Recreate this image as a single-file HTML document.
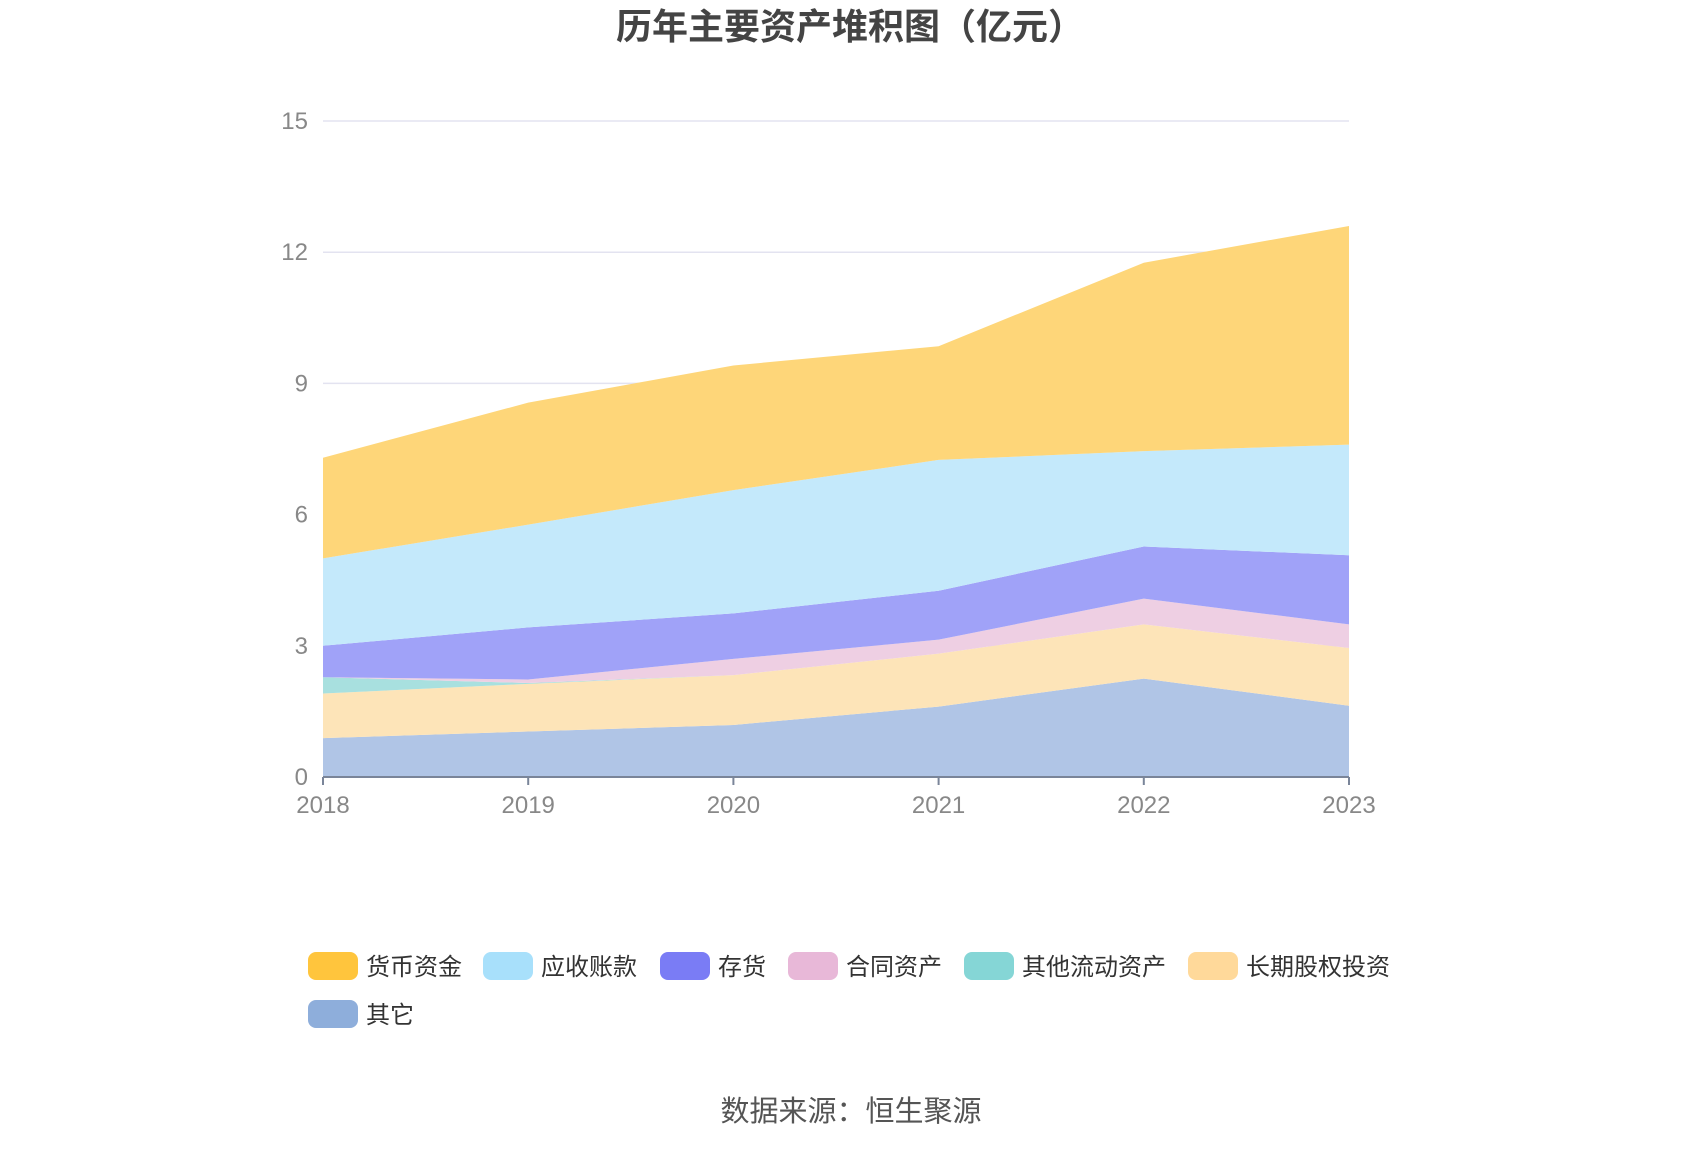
<!DOCTYPE html>
<html><head><meta charset="utf-8"><style>
html,body{margin:0;padding:0;background:#fff;}
body{width:1700px;height:1150px;overflow:hidden;font-family:"Liberation Sans","Noto Sans CJK SC",sans-serif;}
svg text{font-family:"Liberation Sans","Noto Sans CJK SC",sans-serif;}
</style></head><body>
<svg id="chart" width="1700" height="1150" xmlns="http://www.w3.org/2000/svg">
<text x="850" y="39" text-anchor="middle" font-size="36" font-weight="bold" fill="#444">历年主要资产堆积图（亿元）</text>
<g id="grid"></g><g id="areas"></g><g id="axes"></g><g id="legend"></g>
<text x="851" y="1121" text-anchor="middle" font-size="29" fill="#555">数据来源：恒生聚源</text>
</svg>
<script>
const years=["2018","2019","2020","2021","2022","2023"];
const seriesNames=["货币资金","应收账款","存货","合同资产","其他流动资产","长期股权投资","其它"];
const cash=[2.30,2.79,2.85,2.60,4.31,5.00];
const receivables=[2.00,2.35,2.82,2.99,2.18,2.53];
const inventory=[0.72,1.19,1.04,1.12,1.19,1.58];
const contractAssets=[0.00,0.08,0.37,0.32,0.59,0.54];
const otherCurrent=[0.37,0.02,0.00,0.00,0.00,0.00];
const longTermEquity=[1.02,1.09,1.14,1.21,1.24,1.32];
const others=[0.89,1.04,1.19,1.61,2.25,1.63];
const yTicks=[0,3,6,9,12,15];
const NS="http://www.w3.org/2000/svg";
const X0=323,X1=1349,YB=777,YT=121,yMax=15;
const sx=i=>X0+(X1-X0)*i/(years.length-1);
const sy=v=>YB-(YB-YT)*v/yMax;
function mk(t,a,p){const e=document.createElementNS(NS,t);for(const k in a)e.setAttribute(k,a[k]);p.appendChild(e);return e;}
const grid=document.getElementById('grid');
yTicks.forEach(t=>{
 if(t>0){const l=mk('line',{x1:X0,x2:X1,y1:sy(t),y2:sy(t),stroke:'#e3e3f0','stroke-width':1.5},grid);
 
 }
 const tx=mk('text',{x:308,y:sy(t)+8,'text-anchor':'end','font-size':24,fill:'#888'},grid);tx.textContent=t;
 
 
});
const stack=[others,longTermEquity,otherCurrent,contractAssets,inventory,receivables,cash];
const stackNames=["其它","长期股权投资","其他流动资产","合同资产","存货","应收账款","货币资金"];
const fills=["#b0c5e6","#fde4b8","#a8e0df","#eecfe3","#a0a2f8","#c4e9fb","#fed679"];
const areas=document.getElementById('areas');
let base=years.map(()=>0);
stack.forEach((s,k)=>{
 const top=base.map((b,i)=>b+s[i]);
 let d='';
 top.forEach((v,i)=>{d+=(i?'L':'M')+sx(i)+','+sy(v);});
 for(let i=years.length-1;i>=0;i--)d+='L'+sx(i)+','+sy(base[i]);
 d+='Z';
 const p=mk('path',{d:d,fill:fills[k]},areas);
 
 
 base=top;
});
const axes=document.getElementById('axes');
const ax=mk('line',{x1:X0,x2:X1,y1:YB,y2:YB,stroke:'#7a8599','stroke-width':2},axes);


years.forEach((y,i)=>{
 mk('line',{x1:sx(i),x2:sx(i),y1:YB,y2:YB+8,stroke:'#7a8599','stroke-width':2},axes);
 const t=mk('text',{x:sx(i),y:YB+36,'text-anchor':'middle','font-size':24,fill:'#888'},axes);t.textContent=y;
 
 
});
const swatch=["#ffc53d","#a8e0fb","#7a7cf5","#e8b8d8","#85d6d6","#ffd99a","#8eaedb"];
const legend=document.getElementById('legend');
const lx=[308,483,660,788,964,1188,308],ly=[966,966,966,966,966,966,1014];
seriesNames.forEach((n,i)=>{
 const g=mk('g',{},legend);
 
 
 mk('rect',{x:lx[i],y:ly[i]-14,width:50,height:28,rx:8,fill:swatch[i]},g);
 const t=mk('text',{x:lx[i]+58,y:ly[i]+9,'font-size':24,fill:'#333'},g);t.textContent=n;
});
</script>
</body></html>
